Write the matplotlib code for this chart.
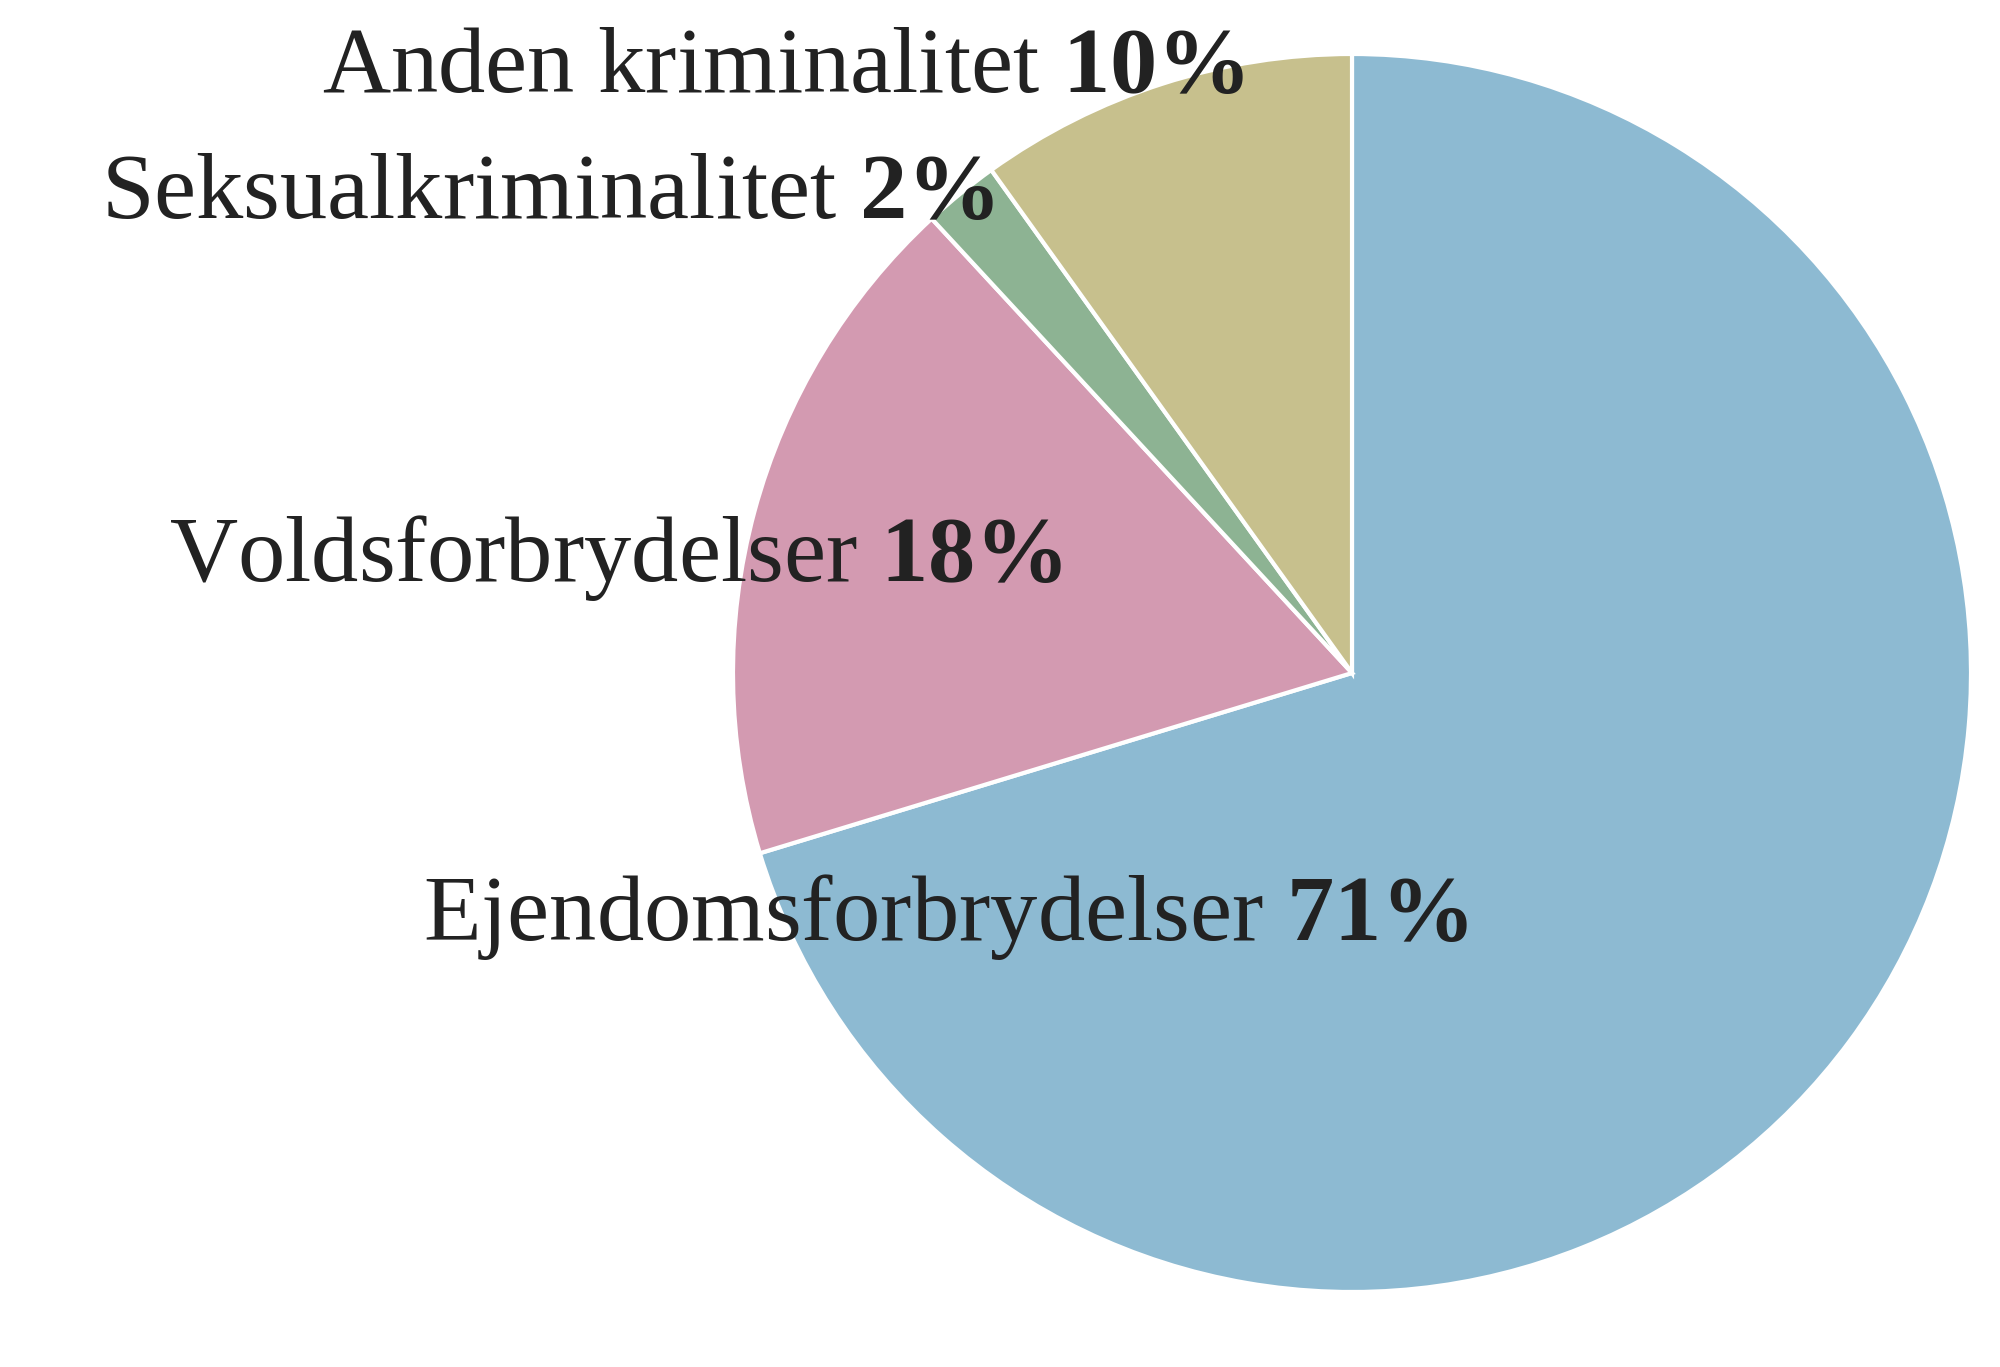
import matplotlib.pyplot as plt

labels = ["Ejendomsforbrydelser", "Voldsforbrydelser", "Seksualkriminalitet", "Anden kriminalitet"]
values = [71, 18, 2, 10]
colors = ["#8DBAD2", "#D39AB1", "#8DB393", "#C7C08D"]

plt.rcParams['mathtext.fontset'] = 'custom'
plt.rcParams['mathtext.rm'] = 'Liberation Serif'
plt.rcParams['mathtext.bf'] = 'Liberation Serif:bold'
plt.rcParams['font.family'] = 'Liberation Serif'

W, H = 2000, 1367
fig = plt.figure(figsize=(W / 100, H / 100), dpi=100)
cx, cy, r = 1352, 673, 619
ax = fig.add_axes([(cx - r) / W, (H - cy - r) / H, 2 * r / W, 2 * r / H])
ax.pie(values, colors=colors, startangle=90, counterclock=False,
       wedgeprops=dict(edgecolor="white", linewidth=3))
ax.set_xlim(-1, 1)
ax.set_ylim(-1, 1)
ax.set_aspect('auto')
ax.axis('off')

# label anchors (right end, baseline centre) in pixel coords
pos = [(1468, 917), (1062, 558), (994, 195), (1244, 70)]
for lab, v, (x, y) in zip(labels, values, pos):
    fig.text(x / W, 1 - y / H, lab + r" $\mathbf{" + str(v) + r"\%}$",
             ha='right', va='center', fontsize=68, color="#222222")

fig.savefig("out.png", dpi=100)
